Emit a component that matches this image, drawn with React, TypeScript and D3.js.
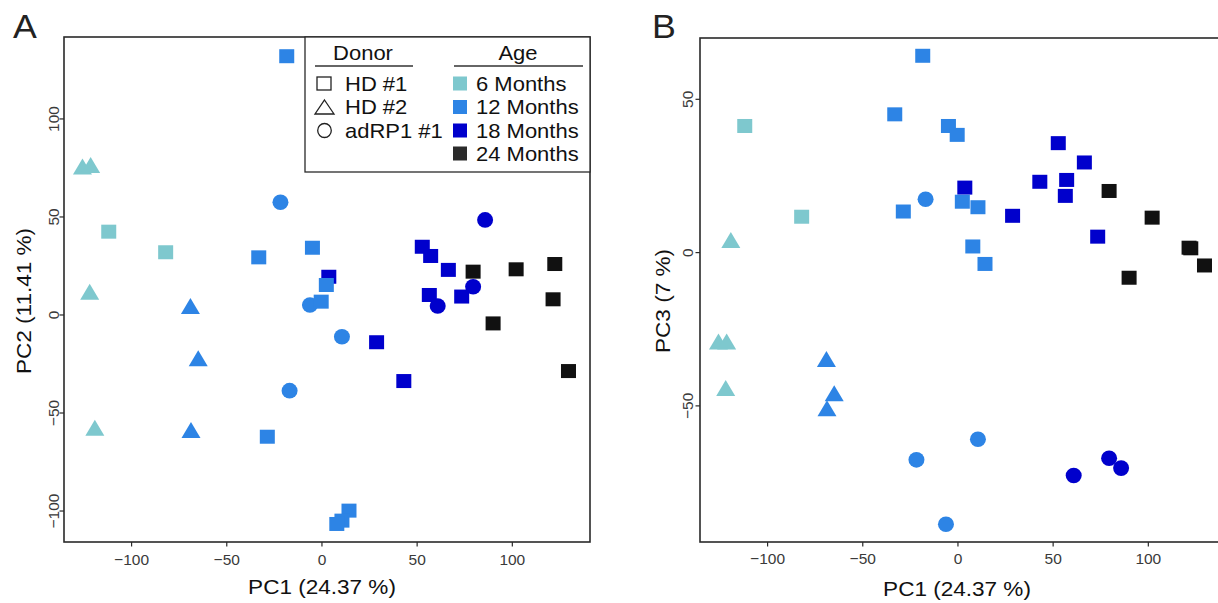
import React from 'react';
import * as d3 from 'd3';

// ---- data (one entry per sample) ----
const donor = ['HD1','HD2','HD2','adRP1','adRP1','HD1','HD1','HD1','HD1','HD1','HD1','HD1','HD1','HD1','HD1','HD1','HD1','adRP1','HD2','HD2','adRP1','HD1','HD1','adRP1','HD1','HD1','HD1','adRP1','HD1','HD2','HD1','HD1','adRP1','HD2','HD2','HD1','HD1','HD1','HD1'];
const age = [12,6,6,12,18,6,6,12,12,18,18,18,24,24,24,18,12,18,6,12,12,12,18,18,18,24,24,12,18,12,24,18,12,6,12,12,12,12,12];
const pc1 = [-18.5,-125.8,-121.5,-21.8,85.7,-112,-82.1,-33.2,-5,52.7,57.1,66.4,79.4,102,122.3,3.6,2.3,79.4,-122,-69.1,-6.3,-0.4,56.4,60.8,73.4,121.4,89.9,10.5,28.7,-65,129.5,43,-17,-119.3,-68.8,-28.7,14.2,10.5,7.8];
const pc2 = [132,75.7,76.5,57.5,48.5,42.5,32,29.4,34.3,34.8,30.1,23,22.1,23.3,26,19.5,15.3,14.4,11.9,4.6,5.1,6.8,10.2,4.6,9.4,8,-4.3,-11.1,-13.9,-22.1,-28.6,-33.7,-38.6,-57.5,-58.7,-62.1,-99.8,-104.9,-106.6];
const pc3 = [64.2,-29,-29,-67.6,-70.3,41.3,11.7,45.1,41.3,35.7,23.7,29.4,20.1,11.4,1.4,21.2,16.6,-67.1,-44.2,-34.7,-88.6,38.4,18.5,-72.7,5.2,1.6,-8.2,-60.9,12,-45.9,-4.2,23.1,17.4,4.1,-50.8,13.4,-3.7,14.8,2];

const donorKeys = ['HD1','HD2','adRP1'];
const donorLabels = ['HD #1','HD #2','adRP1 #1'];
const ageKeys = [6,12,18,24];
const ageLabels = ['6 Months','12 Months','18 Months','24 Months'];
const ageColors = ['#7EC8CE','#2D84E5','#0000CC','#111111'];
const legendAgeColors = ['#7EC8CE','#2D84E5','#0000CC','#2B2B2B'];

const xTicks = [-100,-50,0,50,100];
const yTicksA = [-100,-50,0,50,100];
const yTicksB = [-50,0,50];
const xTitle = 'PC1 (24.37 %)';
const yTitleA = 'PC2 (11.41 %)';
const yTitleB = 'PC3 (7 %)';

const FONT = '"Liberation Sans", Arial, Helvetica, sans-serif';
const AXIS = '#2a2a2a';
const SX = 1.1; // horizontal stretch of text seen in the reference

const colorScale = d3.scaleOrdinal<number, string>().domain(ageKeys).range(ageColors);

function Marker({ shape, x, y, fill }: any) {
  if (shape === 'HD1') {
    return <rect x={x - 7.5} y={y - 7} width={15} height={14} fill={fill} />;
  }
  if (shape === 'HD2') {
    const w = 9.5, h = 8;
    return <path d={`M${x},${y - h}L${x + w},${y + h}L${x - w},${y + h}Z`} fill={fill} />;
  }
  return <ellipse cx={x} cy={y} rx={8} ry={7.8} fill={fill} />;
}

function fmt(t: number) {
  return t < 0 ? '\u2212' + Math.abs(t) : String(t);
}

function Panel({ ys, yTicks, x0, x1, top, bottom, xDom, yDom, clipId, letter, letterX, yTitle, yTitleX, yTitleY, tickLabelX, xTickBase, xTitleBase, xTitleCenter }: any) {
  const x = d3.scaleLinear().domain(xDom).range([x0, x1]);
  const y = d3.scaleLinear().domain(yDom).range([bottom, top]);
  return (
    <g>
      <defs>
        <clipPath id={clipId}><rect x={x0} y={top} width={x1 - x0} height={bottom - top} /></clipPath>
      </defs>
      <text transform={`translate(${letterX},38) scale(1.05,1)`} fontSize={34} fontFamily={FONT} fill="#222">{letter}</text>
      <g clipPath={`url(#${clipId})`}>
        {pc1.map((v, i) => (
          <Marker key={i} shape={donor[i]} x={x(v)} y={y(ys[i])} fill={colorScale(age[i])} />
        ))}
      </g>
      <rect x={x0} y={top} width={x1 - x0} height={bottom - top} fill="none" stroke={AXIS} strokeWidth={1.6} />
      {xTicks.map((t: number) => (
        <g key={t}>
          <line x1={x(t)} x2={x(t)} y1={bottom} y2={bottom + 4.5} stroke={AXIS} strokeWidth={1.2} />
          <text x={x(t)} y={xTickBase} textAnchor="middle" fontSize={15.5} fontFamily={FONT} fill="#3a3a3a">{fmt(t)}</text>
        </g>
      ))}
      {yTicks.map((t: number) => (
        <g key={t}>
          <line x1={x0 - 4.5} x2={x0} y1={y(t)} y2={y(t)} stroke={AXIS} strokeWidth={1.2} />
          <text transform={`translate(${tickLabelX},${y(t)}) rotate(-90)`} textAnchor="middle" fontSize={15.5} fontFamily={FONT} fill="#3a3a3a">{fmt(t)}</text>
        </g>
      ))}
      <text transform={`translate(${xTitleCenter},${xTitleBase}) scale(${SX},1)`} textAnchor="middle" fontSize={20.5} fontFamily={FONT} fill="#111">{xTitle}</text>
      <text transform={`translate(${yTitleX},${yTitleY}) rotate(-90) scale(${SX},1)`} textAnchor="middle" fontSize={20.5} fontFamily={FONT} fill="#111">{yTitle}</text>
    </g>
  );
}

function Legend() {
  const lx = 305, ly = 37, lw = 285, lh = 135;
  const rowY = [83.5, 107, 130.5, 153.5];
  const T = (tx: number, ty: number, s: string, anchor = 'start') => (
    <text transform={`translate(${tx},${ty}) scale(1.1,1)`} textAnchor={anchor} fontSize={20}>{s}</text>
  );
  return (
    <g fontFamily={FONT} fill="#111">
      <rect x={lx} y={ly} width={lw} height={lh} fill="white" stroke={AXIS} strokeWidth={1.3} />
      {T(363, 60, 'Donor', 'middle')}
      <line x1={315} x2={413} y1={66} y2={66} stroke="#333" strokeWidth={1.3} />
      {T(518, 60, 'Age', 'middle')}
      <line x1={454} x2={583} y1={66} y2={66} stroke="#333" strokeWidth={1.3} />
      {donorKeys.map((k, i) => (
        <g key={k}>
          {k === 'HD1' && <rect x={317} y={rowY[i] - 6.5} width={14} height={13} fill="none" stroke="#222" strokeWidth={1.3} />}
          {k === 'HD2' && <path d={`M${324.5},${rowY[i] - 7}L${334},${rowY[i] + 7}L${315},${rowY[i] + 7}Z`} fill="none" stroke="#222" strokeWidth={1.3} />}
          {k === 'adRP1' && <ellipse cx={324.5} cy={rowY[i]} rx={6.8} ry={7} fill="none" stroke="#222" strokeWidth={1.3} />}
          {T(345, rowY[i] + 7, donorLabels[i])}
        </g>
      ))}
      {ageKeys.map((k, i) => (
        <g key={k}>
          <rect x={453} y={rowY[i] - 7} width={14} height={14} fill={legendAgeColors[i]} />
          {T(476, rowY[i] + 7, ageLabels[i])}
        </g>
      ))}
    </g>
  );
}

export default function App() {
  const xDom = [-135.5, 140.8];
  return (
    <svg width={1218} height={603} style={{ position: 'absolute', left: 0, top: 0, background: 'white' }}>
      <rect x={0} y={0} width={1218} height={603} fill="white" />
      <Panel ys={pc2} yTicks={yTicksA} x0={64} x1={590} top={37} bottom={542} xDom={xDom} yDom={[-115.8, 141.8]} clipId="clipA" letter="A" letterX={13} yTitle={yTitleA} yTitleX={30.5} yTitleY={301} tickLabelX={58.5} xTickBase={565} xTitleBase={594} xTitleCenter={322} />
      <Panel ys={pc3} yTicks={yTicksB} x0={700} x1={1226} top={38} bottom={542} xDom={xDom} yDom={[-94.4, 70.0]} clipId="clipB" letter="B" letterX={652} yTitle={yTitleB} yTitleX={670} yTitleY={301} tickLabelX={693} xTickBase={564} xTitleBase={596} xTitleCenter={957} />
      <Legend />
    </svg>
  );
}
